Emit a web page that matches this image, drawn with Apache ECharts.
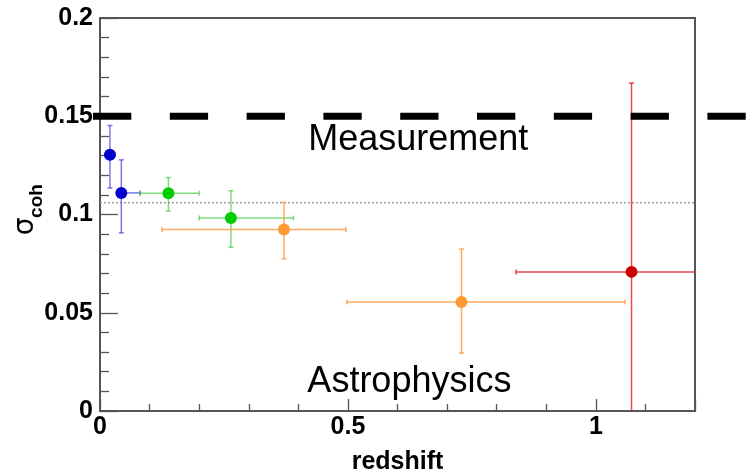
<!DOCTYPE html>
<html>
<head>
<meta charset="utf-8">
<script src="https://cdn.jsdelivr.net/npm/echarts@6/dist/echarts.min.js"></script>
<style>
  html, body { margin: 0; padding: 0; background: #fff; }
  #chart { width: 755px; height: 473px; }
</style>
</head>
<body>
<div id="chart"></div>
<script>
// Coherence parameter per redshift bin, grouped by sample
const sample     = ['blue', 'blue', 'green', 'green', 'orange', 'orange', 'red'];
const redshift   = [0.020, 0.043, 0.138, 0.264, 0.371, 0.729, 1.072];
const sigmaCoh   = [0.1304, 0.1110, 0.1108, 0.0982, 0.0924, 0.0555, 0.0708];
const zLow       = [0.012, 0.035, 0.081, 0.200, 0.125, 0.498, 0.839];
const zHigh      = [0.030, 0.081, 0.200, 0.390, 0.496, 1.059, 1.350];
const sigmaLow   = [0.1135, 0.0906, 0.1018, 0.0833, 0.0774, 0.0295, -0.030];
const sigmaHigh  = [0.1453, 0.1278, 0.1188, 0.1121, 0.1062, 0.0824, 0.1669];

// Reference levels
const measurementLevel = 0.15;
const measurementSpan = [-0.0141, 1.32];
const averageLevel = 0.106;

// Axis ticks
const xTicks = [0, 0.5, 1];
const yTicks = [0, 0.05, 0.1, 0.15, 0.2];

// Region labels
const regionLabels = [
  { name: 'Measurement', z: 0.642, s: 0.1379 },
  { name: 'Astrophysics', z: 0.624, s: 0.0148 }
];

const palette = {
  blue:   { point: '#0000cc', bar: 'rgba(50,50,225,0.65)' },
  green:  { point: '#00cc00', bar: 'rgba(40,200,40,0.6)' },
  orange: { point: '#ff9933', bar: 'rgba(255,150,60,0.8)' },
  red:    { point: '#cc0000', bar: 'rgba(225,30,30,0.8)' }
};

const labelFont = 'Liberation Sans, Arial, Helvetica, sans-serif';

function errorBarRenderer(colors) {
  return function (params, api) {
    const x = api.value(0), y = api.value(1);
    const xl = api.value(2), xh = api.value(3);
    const yl = api.value(4), yh = api.value(5);
    const c = api.coord([x, y]);
    const pL = api.coord([xl, y]);
    const pR = api.coord([xh, y]);
    const pB = api.coord([x, yl]);
    const pT = api.coord([x, yh]);
    const cap = 2.5;
    const ls = { stroke: colors.bar, lineWidth: 1.5 };
    const children = [];
    if (xh > xl) {
      children.push({ type: 'line', shape: { x1: pL[0], y1: c[1], x2: pR[0], y2: c[1] }, style: ls });
      children.push({ type: 'line', shape: { x1: pL[0], y1: c[1] - cap, x2: pL[0], y2: c[1] + cap }, style: ls });
      children.push({ type: 'line', shape: { x1: pR[0], y1: c[1] - cap, x2: pR[0], y2: c[1] + cap }, style: ls });
    }
    children.push({ type: 'line', shape: { x1: c[0], y1: pB[1], x2: c[0], y2: pT[1] }, style: ls });
    children.push({ type: 'line', shape: { x1: c[0] - cap, y1: pB[1], x2: c[0] + cap, y2: pB[1] }, style: ls });
    children.push({ type: 'line', shape: { x1: c[0] - cap, y1: pT[1], x2: c[0] + cap, y2: pT[1] }, style: ls });
    children.push({ type: 'circle', shape: { cx: c[0], cy: c[1], r: 6 }, style: { fill: colors.point } });
    return { type: 'group', children: children };
  };
}

const groupNames = ['blue', 'green', 'orange', 'red'];
const errorSeries = groupNames.map(function (g) {
  const rows = [];
  for (let i = 0; i < redshift.length; i++) {
    if (sample[i] === g) {
      rows.push([redshift[i], sigmaCoh[i], zLow[i], zHigh[i], sigmaLow[i], sigmaHigh[i]]);
    }
  }
  return {
    type: 'custom',
    name: g,
    clip: true,
    renderItem: errorBarRenderer(palette[g]),
    data: rows,
    z: 3
  };
});

const chart = echarts.init(document.getElementById('chart'), null, { renderer: 'canvas' });

chart.setOption({
  animation: false,
  backgroundColor: '#ffffff',
  grid: {
    left: 100, right: 60, top: 18, bottom: 62,
    outerBoundsMode: 'none',
    containLabel: false,
    show: true, borderColor: '#555', borderWidth: 2, backgroundColor: 'transparent'
  },
  xAxis: {
    type: 'value',
    min: 0, max: 1.2, interval: 0.5,
    name: 'redshift',
    nameLocation: 'middle',
    nameGap: 39,
    nameTextStyle: { fontFamily: labelFont, fontWeight: 'bold', fontSize: 25, color: '#000' },
    axisLine: { show: true, lineStyle: { color: '#555', width: 2 } },
    axisTick: { show: true, inside: true, length: 12, lineStyle: { color: '#555', width: 1.3 } },
    minorTick: { show: true, splitNumber: 5, length: 7, lineStyle: { color: '#555', width: 1.3 } },
    splitLine: { show: false },
    axisLabel: {
      margin: 4, fontFamily: labelFont, fontWeight: 'bold', fontSize: 25, color: '#000',
      customValues: xTicks,
      formatter: function (v) { return String(+v.toFixed(2)); }
    }
  },
  yAxis: {
    type: 'value',
    min: 0, max: 0.2, interval: 0.05,
    axisLine: { show: true, lineStyle: { color: '#555', width: 2 } },
    axisTick: { show: true, inside: true, length: 18, lineStyle: { color: '#555', width: 1.3 } },
    minorTick: { show: true, splitNumber: 5, length: 9, lineStyle: { color: '#555', width: 1.3 } },
    splitLine: { show: false },
    axisLabel: {
      margin: 7, fontFamily: labelFont, fontWeight: 'bold', fontSize: 25, color: '#000',
      customValues: yTicks,
      formatter: function (v) { return String(+v.toFixed(2)); }
    }
  },
  series: [
    {
      type: 'line',
      name: 'average',
      data: [[0, averageLevel], [1.2, averageLevel]],
      symbol: 'none',
      lineStyle: { color: '#9a9a9a', width: 1.5, type: [2, 2] },
      z: 1,
      silent: true
    }
  ].concat(errorSeries)
});

// The measurement threshold runs past both sides of the frame, so it is
// drawn as a free line placed through the axis scales; the region captions
// are anchored the same way.
const toPx = function (z, s) { return chart.convertToPixel({ gridIndex: 0 }, [z, s]); };
const pStart = toPx(measurementSpan[0], measurementLevel);
const pEnd = toPx(measurementSpan[1], measurementLevel);

const captions = regionLabels.map(function (r, i) {
  const p = toPx(r.z, r.s);
  return {
    type: 'text', id: 'region' + i, x: p[0], y: p[1], z: 10, silent: true,
    style: { text: r.name, font: '36px ' + labelFont, fill: '#000', align: 'center', verticalAlign: 'middle' }
  };
});

chart.setOption({
  graphic: [
    { type: 'line', id: 'threshold', z: 10, silent: true,
      shape: { x1: pStart[0], y1: pStart[1], x2: pEnd[0], y2: pEnd[1] },
      style: { stroke: '#000', lineWidth: 7, lineDash: [38.3, 38.5], lineCap: 'butt' } },
    { type: 'text', id: 'ySigma', x: 25.5, y: 226.5, rotation: Math.PI / 2, z: 10,
      style: { text: 'σ', font: '28px "DejaVu Sans", sans-serif', fill: '#000', align: 'center', verticalAlign: 'middle' } },
    { type: 'text', id: 'yCoh', x: 36.5, y: 201, rotation: Math.PI / 2, z: 10,
      style: { text: 'coh', font: 'bold 19px ' + labelFont, fill: '#000', align: 'center', verticalAlign: 'middle' } }
  ].concat(captions)
});
</script>
</body>
</html>
